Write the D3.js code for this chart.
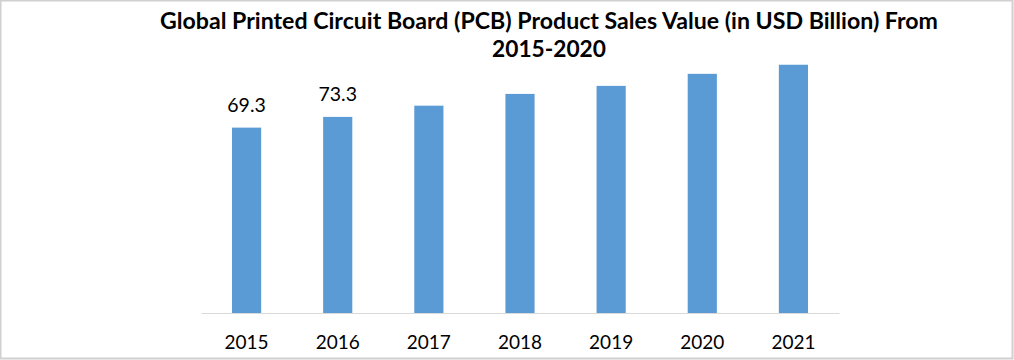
<!DOCTYPE html>
<html><head><meta charset="utf-8">
<script src="https://cdn.jsdelivr.net/npm/d3@7"></script>
<style>body{margin:0;background:#fff}svg{display:block}</style>
</head><body>
<script>
const categories = ["2015","2016","2017","2018","2019","2020","2021"];
const values = [69.3, 73.3, 77.5, 81.9, 84.9, 89.4, 92.8];
const dataLabels = ["69.3","73.3",null,null,null,null,null];
const titleLines = ["Global Printed Circuit Board (PCB) Product Sales Value (in USD Billion) From","2015-2020"];

const W = 1014, H = 360;
const svg = d3.select("body").append("svg").attr("width", W).attr("height", H);
svg.append("rect").attr("x",0.5).attr("y",0.5).attr("width",W-2).attr("height",H-2)
  .attr("fill","#fff").attr("stroke","#d0d0d0").attr("stroke-width",2);

const font = "Lato, 'Open Sans', sans-serif";
const x = d3.scaleBand().domain(categories).range([201, 839]).paddingInner(0.68).paddingOuter(0.34);
const y = d3.scaleLinear().domain([0, 117]).range([313, 0]);

// title
const tl = [{t:titleLines[0], y:28.5, len:778},{t:titleLines[1], y:56.5, len:114}];
svg.selectAll("text.title").data(tl).join("text").attr("class","title")
  .attr("x",549).attr("y",d=>d.y).attr("text-anchor","middle")
  .attr("font-family",font).attr("font-weight","bold").attr("font-size",23)
  .attr("textLength",d=>d.len).attr("lengthAdjust","spacingAndGlyphs")
  .attr("fill","#000").text(d=>d.t);

// bars
svg.selectAll("rect.bar").data(values).join("rect").attr("class","bar")
  .attr("x",(d,i)=>x(categories[i])).attr("width",x.bandwidth())
  .attr("y",d=>y(d)).attr("height",d=>y(0)-y(d)).attr("fill","#5b9bd5");

// axis
const ax = svg.append("g").attr("transform","translate(0,313)")
  .call(d3.axisBottom(x).tickSize(0).tickPadding(0));
ax.select(".domain").attr("stroke","#d9d9d9").attr("stroke-width",1);
ax.selectAll("text").attr("font-family",font).attr("font-size",19).attr("fill","#000")
  .attr("dy",null).attr("y",35.5);

// data labels
svg.selectAll("text.dl").data(values).join("text").attr("class","dl")
  .filter((d,i)=>dataLabels[i]!==null)
  .attr("x",(d,i)=>x(categories[i])+x.bandwidth()/2).attr("y",d=>y(d)-16)
  .attr("text-anchor","middle").attr("font-family",font).attr("font-size",19.5).attr("fill","#000")
  .text((d,i)=>dataLabels[i]);
</script>
</body></html>
